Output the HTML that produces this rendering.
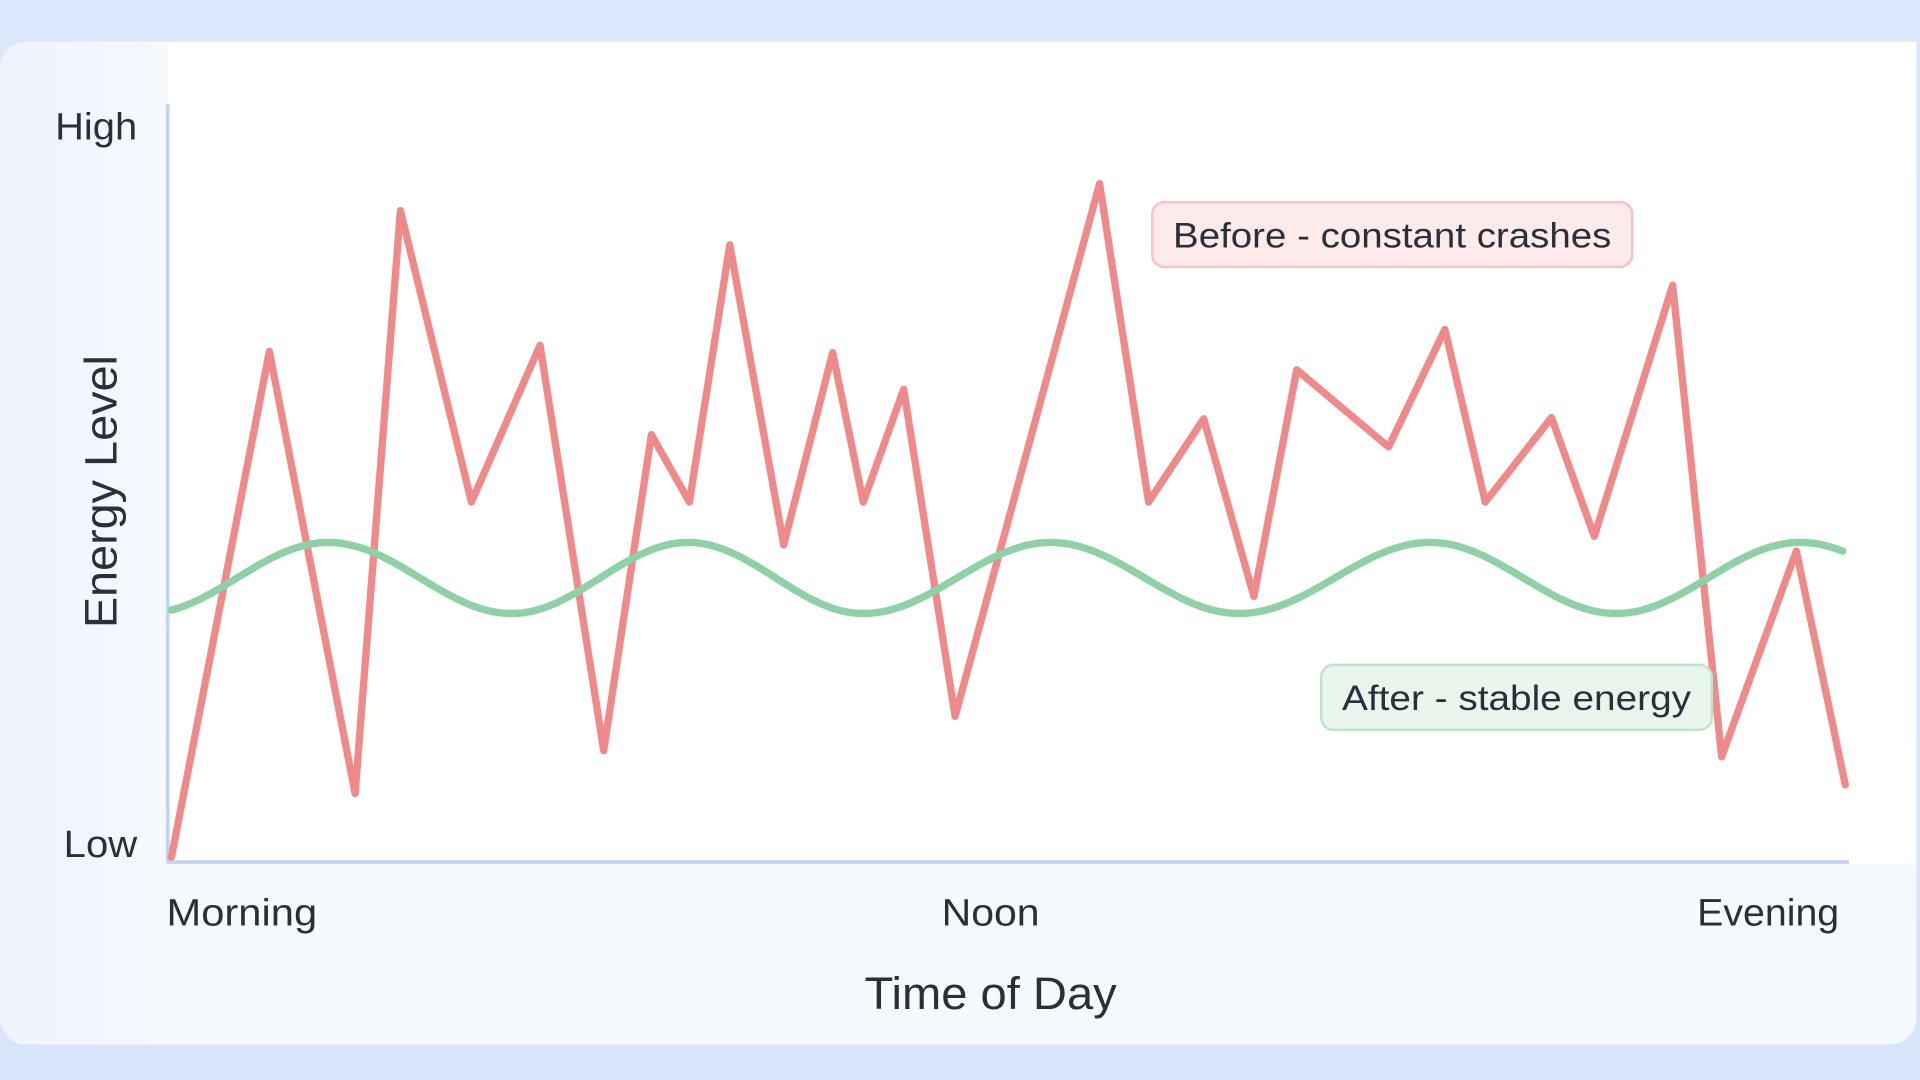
<!DOCTYPE html>
<html><head><meta charset="utf-8"><style>
html,body{margin:0;padding:0;width:1920px;height:1080px;overflow:hidden;background:#dde8fa}
svg{display:block}
text{font-family:"Liberation Sans",sans-serif;fill:#2a2f3a}
</style></head><body>
<svg width="1920" height="1080" viewBox="0 0 1568 882" preserveAspectRatio="none">
<defs>
<linearGradient id="bg" x1="0" y1="0" x2="0" y2="1"><stop offset="0" stop-color="#dbe7fb"/><stop offset="1" stop-color="#d9e5fa"/></linearGradient>
<linearGradient id="lf" x1="0" y1="0" x2="1" y2="0"><stop offset="0" stop-color="#eef3fd"/><stop offset="1" stop-color="#f6f9fe"/></linearGradient>
</defs>
<rect width="1568" height="882" fill="url(#bg)"/>
<rect x="0" y="34" width="1565" height="819" rx="22" fill="#f6f9fe"/>
<rect x="0" y="34" width="137" height="819" rx="22" fill="url(#lf)"/>
<rect x="137" y="34" width="1428" height="672" fill="#ffffff"/>
<line x1="137" y1="85" x2="137" y2="705" stroke="#c3d3f1" stroke-width="3"/>
<line x1="137" y1="704" x2="1510" y2="704" stroke="#c3d3f1" stroke-width="3"/>
<text x="45" y="114" font-size="31" textLength="67" lengthAdjust="spacingAndGlyphs">High</text>
<text x="52" y="700" font-size="31" textLength="60" lengthAdjust="spacingAndGlyphs">Low</text>
<text transform="translate(95,513) rotate(-90)" font-size="37" textLength="223" lengthAdjust="spacingAndGlyphs">Energy Level</text>
<text x="136" y="756" font-size="31" textLength="123" lengthAdjust="spacingAndGlyphs">Morning</text>
<text x="769" y="756" font-size="31" textLength="80" lengthAdjust="spacingAndGlyphs">Noon</text>
<text x="1386" y="756" font-size="31" textLength="116" lengthAdjust="spacingAndGlyphs">Evening</text>
<text x="706" y="824" font-size="37" textLength="206" lengthAdjust="spacingAndGlyphs">Time of Day</text>
<polyline fill="none" stroke="#ee8a8a" stroke-width="6" stroke-linejoin="round" stroke-linecap="round" points="140,700 220,287 290,648 327,172 385,410 441,282 493,613 532,355 563,410 596,200 640,445 680,288 705,410 738,318 780,585 898,150 938,410 983,342 1024,487 1059,302 1134,365 1180,269 1213,410 1267,341 1302,438 1366,233 1406,618 1467,450 1507,641"/>
<path id="g" fill="none" stroke="#8fd0a6" stroke-width="6" stroke-linecap="round" d=""/>
<rect x="941" y="165" width="392" height="53" rx="10" fill="#fdeaea" stroke="#f5c3c3" stroke-width="2"/>
<text x="958" y="202" font-size="29" textLength="358" lengthAdjust="spacingAndGlyphs">Before - constant crashes</text>
<rect x="1079" y="543" width="319" height="53" rx="10" fill="#e9f6ee" stroke="#bfe4cc" stroke-width="2"/>
<text x="1096" y="580" font-size="29" textLength="285" lengthAdjust="spacingAndGlyphs">After - stable energy</text>
</svg>
<script>
var pk=[[140,-0.43],[268,0],[418,0.5],[562,1],[705,1.5],[858,2],[1012,2.5],[1168,3],[1320,3.5],[1470,4],[1507,4.12]];
function ph(x){for(var i=0;i<pk.length-1;i++){if(x<=pk[i+1][0]){var t=(x-pk[i][0])/(pk[i+1][0]-pk[i][0]);return pk[i][1]+t*(pk[i+1][1]-pk[i][1]);}}return pk[pk.length-1][1];}
var d="";for(var x=140;x<=1507;x+=3){var y=472-29*Math.cos(2*Math.PI*ph(x));d+=(x==140?"M":"L")+x+","+y.toFixed(1);}
document.getElementById("g").setAttribute("d",d);
</script>
</body></html>
